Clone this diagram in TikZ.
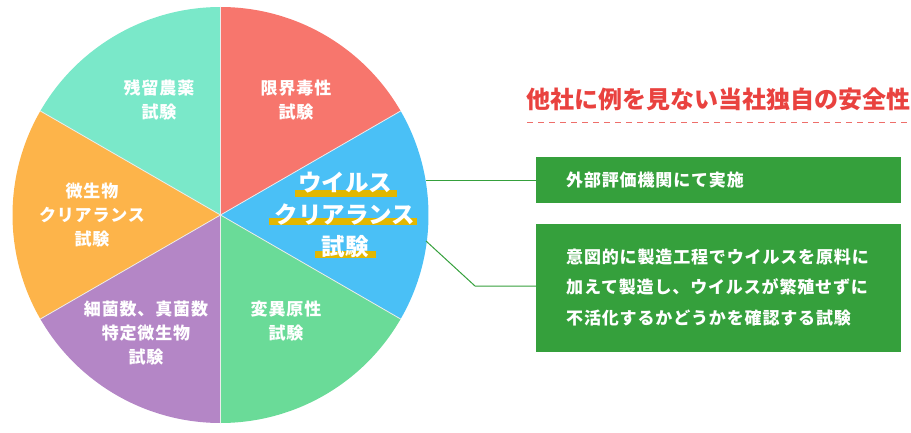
\documentclass[tikz,border=0pt]{standalone}
\usepackage{fontspec}
\newfontfamily\jp{Noto Sans CJK JP}[LetterSpace=5]
\newfontfamily\jpt{Noto Sans CJK JP}
\definecolor{cRed}{HTML}{F7766D}
\definecolor{cBlue}{HTML}{4AC0F6}
\definecolor{cGreen}{HTML}{6ADB98}
\definecolor{cPurple}{HTML}{B486C6}
\definecolor{cOrange}{HTML}{FDB44A}
\definecolor{cTeal}{HTML}{7AE8C9}
\definecolor{cHi}{HTML}{E2B700}
\definecolor{cBox}{HTML}{35A03C}
\definecolor{cTitle}{HTML}{E9423F}
\definecolor{cDash}{HTML}{EE6E6A}
\tikzset{
  pielabel/.style={text=white, align=center, font=\jp\bfseries\fontsize{17}{24}\selectfont, inner sep=0pt},
  viruslabel/.style={text=white, align=center, font=\jpt\bfseries\fontsize{23.5}{32}\selectfont, inner sep=0pt},
  boxstyle/.style={fill=cBox, draw=none},
  boxtext/.style={text=white, align=left, anchor=west, font=\jp\bfseries\fontsize{17}{30.5}\selectfont, inner sep=0pt},
  conn/.style={draw=cBox, line width=1pt},
  sep/.style={draw=white!85!gray, line width=0.8pt}
}
\begin{document}
\begin{tikzpicture}[x=1pt,y=-1pt]
\useasboundingbox (0,0) rectangle (911,433);
\coordinate (C) at (220.5,215);
% sectors (tikz angle = - visual angle)
\fill[cRed]    (C) -- ++(-90:208)  arc[start angle=-90, end angle=-30, radius=208] -- cycle;
\fill[cBlue]   (C) -- ++(-30:208)  arc[start angle=-30, end angle=30, radius=208] -- cycle;
\fill[cGreen]  (C) -- ++(30:208)   arc[start angle=30, end angle=90, radius=208] -- cycle;
\fill[cPurple] (C) -- ++(90:208)   arc[start angle=90, end angle=150, radius=208] -- cycle;
\fill[cOrange] (C) -- ++(150:208)  arc[start angle=150, end angle=210, radius=208] -- cycle;
\fill[cTeal]   (C) -- ++(210:208)  arc[start angle=210, end angle=270, radius=208] -- cycle;
\foreach \a in {-90,-30,30,90,150,210} \draw[sep] (C) -- ++(\a:208);
% labels
\node[pielabel] (l1) at (296,100) {限界毒性\\試験};
\node[pielabel] (l2) at (159,100) {残留農薬\\試験};
\node[pielabel] (l3) at (92,215) {微生物\\クリアランス\\試験};
\node[pielabel] (l4) at (146,333) {細菌数、真菌数\\特定微生物\\試験};
\node[pielabel] (l5) at (286,321) {変異原性\\試験};
% highlight bars
\fill[cHi] (295,190) rectangle (397,197);
\fill[cHi] (269,218) rectangle (417,225);
\fill[cHi] (315,251) rectangle (376,258);
\node[viruslabel] (l6) at (345,215) {ウイルス\\クリアランス\\試験};
% title
\node[text=cTitle, anchor=west, font=\jpt\bfseries\fontsize{24}{28}\selectfont, inner sep=0pt] (title) at (526,99) {他社に例を見ない当社独自の安全性};
\coordinate (d1) at (527,122.5);
\coordinate (d2) at (910,122.5);
\draw[cDash, line width=0.9pt, dash pattern=on 6pt off 5pt] (d1) -- (d2);
% boxes
\node[boxstyle, minimum width=365pt, minimum height=46pt, anchor=north west, inner sep=0pt] (b1) at (536,157) {};
\node[boxstyle, minimum width=365pt, minimum height=128pt, anchor=north west, inner sep=0pt] (b2) at (536,224) {};
\node[boxtext] (t1) at (566,180.5) {外部評価機関にて実施};
\node[boxtext] (t2) at (566,287.5) {意図的に製造工程でウイルスを原料に\\加えて製造し、ウイルスが繁殖せずに\\不活化するかどうかを確認する試験};
% connectors
\coordinate (p1) at (426,180.5);
\coordinate (p2) at (426,241);
\coordinate (k2) at (475,286);
\draw[conn] (p1) -- (p1 -| b1.west);
\draw[conn] (p2) -- (k2) -- (k2 -| b2.west);
\end{tikzpicture}
\end{document}
